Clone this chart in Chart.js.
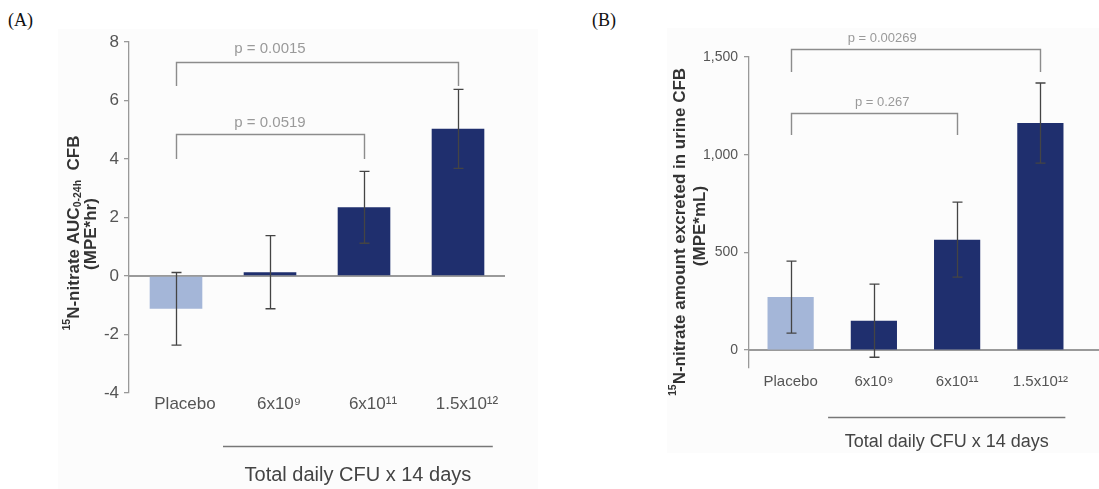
<!DOCTYPE html>
<html>
<head>
<meta charset="utf-8">
<script src="https://cdn.jsdelivr.net/npm/chart.js@4/dist/chart.umd.min.js"></script>
<style>
  html, body { margin: 0; padding: 0; background: #ffffff; }
  body { width: 1099px; height: 489px; position: relative; overflow: hidden; }
  .bg { position: absolute; background: #fcfcfc; }
  .panel-label { position: absolute; font-family: "Liberation Serif", "Times New Roman", serif; font-size: 18px; color: #111; }
  canvas { position: absolute; top: 0; }
</style>
</head>
<body>
<div class="bg" style="left:58px;top:29px;width:480px;height:460px;"></div>
<div class="bg" style="left:667px;top:28px;width:432px;height:425px;"></div>
<div class="panel-label" style="left:8px;top:10px;">(A)</div>
<div class="panel-label" style="left:592px;top:10px;">(B)</div>
<canvas id="chartA" width="540" height="489" style="left:0px;width:540px;height:489px;"></canvas>
<canvas id="chartB" width="549" height="489" style="left:550px;width:549px;height:489px;"></canvas>
<script>
// ---------------- data ----------------
const categories = ['Placebo', '6x10\u2079', '6x10\u00b9\u00b9', '1.5x10\u00b9\u00b2'];

const aucMeans  = [-1.12, 0.13, 2.35, 5.03];
const aucErrors = [1.24, 1.25, 1.23, 1.35];
const aucTicks  = [-4, -2, 0, 2, 4, 6, 8];
const aucTickLabels = ['-4', '-2', '0', '2', '4', '6', '8'];

const urineMeans  = [271, 150, 565, 1162];
const urineErrors = [184, 187, 192, 205];
const urineTicks  = [0, 500, 1000, 1500];
const urineTickLabels = ['0', '500', '1,000', '1,500'];

const barColors = ['#a4b6d8', '#1f2f6e', '#1f2f6e', '#1f2f6e'];

const aucComparisons = [
  { from: 0, to: 3, label: 'p = 0.0015', top: 7.32, foot: 6.5, textAt: 1.0, textY: 7.76 },
  { from: 0, to: 2, label: 'p = 0.0519', top: 4.85, foot: 4.0, textAt: 1.0, textY: 5.25 }
];
const urineComparisons = [
  { from: 0, to: 3, label: 'p = 0.00269', top: 1541, foot: 1423, textAt: 1.1, textY: 1597 },
  { from: 0, to: 2, label: 'p = 0.267', top: 1213, foot: 1101, textAt: 1.1, textY: 1270 }
];

const groupLabel = 'Total daily CFU x 14 days';

// ---------------- helpers ----------------
const SANS = '"Liberation Sans", Arial, sans-serif';

function drawRich(ctx, segments, size, weight) {
  let total = 0;
  const parts = segments.map(s => {
    const sz = s.sup || s.sub ? size * 0.62 : size;
    ctx.font = weight + ' ' + sz + 'px ' + SANS;
    const w = ctx.measureText(s.t).width;
    total += w;
    return { s, sz, w };
  });
  let x = -total / 2;
  parts.forEach(p => {
    ctx.font = weight + ' ' + p.sz + 'px ' + SANS;
    let dy = 0;
    if (p.s.sup) dy = -size * 0.38;
    if (p.s.sub) dy = size * 0.22;
    ctx.fillText(p.s.t, x, dy);
    x += p.w;
  });
}

const extrasPlugin = {
  id: 'extras',
  beforeDatasetsDraw(chart, args, o) {
    const ctx = chart.ctx, ys = chart.scales.y, ca = chart.chartArea;
    const y0 = ys.getPixelForValue(0);
    ctx.save();
    ctx.strokeStyle = '#9a9a9a';
    ctx.lineWidth = 2;
    ctx.beginPath();
    ctx.moveTo(ca.left, y0);
    ctx.lineTo(o.zeroLineRight === 'edge' ? chart.width : ca.right, y0);
    ctx.stroke();
    ctx.restore();
  },
  afterDatasetsDraw(chart, args, o) {
    const ctx = chart.ctx, ys = chart.scales.y;
    const meta = chart.getDatasetMeta(0);
    ctx.save();
    ctx.strokeStyle = '#444';
    ctx.lineWidth = 1.3;
    meta.data.forEach((bar, i) => {
      const x = Math.round(bar.x) + 0.5;
      const t = ys.getPixelForValue(o.means[i] + o.errors[i]);
      const b = ys.getPixelForValue(o.means[i] - o.errors[i]);
      ctx.beginPath();
      ctx.moveTo(x, t); ctx.lineTo(x, b);
      ctx.moveTo(x - o.cap, t); ctx.lineTo(x + o.cap, t);
      ctx.moveTo(x - o.cap, b); ctx.lineTo(x + o.cap, b);
      ctx.stroke();
    });
    ctx.restore();
  },
  afterDraw(chart, args, o) {
    const ctx = chart.ctx, ys = chart.scales.y, xs = chart.scales.x;
    const catX = v => {
      const step = xs.getPixelForValue(1) - xs.getPixelForValue(0);
      return xs.getPixelForValue(0) + v * step;
    };
    ctx.save();
    // significance brackets
    o.comparisons.forEach(c => {
      const x1 = Math.round(catX(c.from)) + 0.5, x2 = Math.round(catX(c.to)) + 0.5;
      const yt = Math.round(ys.getPixelForValue(c.top)) + 0.5;
      const yf = ys.getPixelForValue(c.foot);
      ctx.strokeStyle = '#8c8c8c';
      ctx.lineWidth = 1.4;
      ctx.beginPath();
      ctx.moveTo(x1, yf); ctx.lineTo(x1, yt); ctx.lineTo(x2, yt); ctx.lineTo(x2, yf);
      ctx.stroke();
      ctx.fillStyle = '#9a9a9a';
      ctx.font = o.pFont + 'px ' + SANS;
      ctx.textAlign = 'center';
      ctx.textBaseline = 'middle';
      ctx.fillText(c.label, catX(c.textAt), ys.getPixelForValue(c.textY));
    });
    // group underline and label
    const gx1 = catX(o.groupFrom), gx2 = catX(o.groupTo);
    ctx.strokeStyle = '#777';
    ctx.lineWidth = 1.4;
    ctx.beginPath();
    ctx.moveTo(gx1, o.groupLineY + 0.5); ctx.lineTo(gx2, o.groupLineY + 0.5);
    ctx.stroke();
    ctx.fillStyle = '#444';
    ctx.font = o.groupFont + 'px ' + SANS;
    ctx.textAlign = 'center';
    ctx.textBaseline = 'middle';
    ctx.fillText(groupLabel, (gx1 + gx2) / 2, o.groupTextY);
    // rotated y title (two lines)
    ctx.fillStyle = '#333';
    ctx.textAlign = 'left';
    ctx.textBaseline = 'middle';
    o.titleLines.forEach(line => {
      ctx.save();
      ctx.translate(line.x, line.y);
      ctx.rotate(-Math.PI / 2);
      drawRich(ctx, line.segments, o.titleFont, 'bold');
      ctx.restore();
    });
    ctx.restore();
  }
};

function makeChart(id, cfg) {
  return new Chart(document.getElementById(id), {
    type: 'bar',
    data: {
      labels: categories,
      datasets: [{
        data: cfg.means,
        backgroundColor: barColors,
        borderWidth: 0,
        barPercentage: cfg.barPct,
        categoryPercentage: 1.0
      }]
    },
    plugins: [extrasPlugin],
    options: {
      responsive: false,
      animation: false,
      events: [],
      layout: { padding: { left: 0, right: cfg.padRight, top: cfg.padTop, bottom: 0 } },
      plugins: {
        legend: { display: false },
        tooltip: { enabled: false },
        extras: cfg.extras
      },
      scales: {
        x: {
          grid: { display: false, drawTicks: false },
          border: { display: false },
          ticks: {
            color: '#555',
            font: { family: SANS, size: cfg.catFont },
            padding: cfg.catPad,
            labelOffset: cfg.catShift,
            maxRotation: 0,
            autoSkip: false
          },
          afterFit: s => { s.height = cfg.xHeight; }
        },
        y: {
          min: cfg.min,
          max: cfg.max,
          grid: { drawOnChartArea: false, drawTicks: true, tickLength: 5, color: '#999', lineWidth: 1.3 },
          border: { display: true, color: '#999', width: 1.3 },
          ticks: {
            color: '#555',
            font: { family: SANS, size: cfg.tickFont },
            padding: cfg.tickPad,
            callback: (v) => {
              const k = cfg.ticks.indexOf(v);
              return k >= 0 ? cfg.tickLabels[k] : '';
            }
          },
          afterBuildTicks: s => { s.ticks = cfg.ticks.map(v => ({ value: v })); },
          afterFit: s => { s.width = cfg.yWidth; }
        }
      }
    }
  });
}

makeChart('chartA', {
  means: aucMeans, barPct: 0.56, padRight: 35, padTop: 42, xHeight: 96, yWidth: 129,
  min: -4, max: 8, ticks: aucTicks, tickLabels: aucTickLabels,
  catFont: 17, catPad: 1, catShift: 9, tickFont: 17, tickPad: 5,
  extras: {
    means: aucMeans, errors: aucErrors, cap: 5,
    comparisons: aucComparisons, pFont: 15,
    zeroLineRight: 'area',
    groupFrom: 0.5, groupTo: 3.37, groupLineY: 446, groupTextY: 475, groupFont: 20,
    titleFont: 17,
    titleLines: [
      { x: 74, y: 233, segments: [{ t: '15', sup: true }, { t: 'N-nitrate AUC' }, { t: '0-24h', sub: true }, { t: '  CFB' }] },
      { x: 91, y: 234, segments: [{ t: '(MPE*hr)' }] }
    ]
  }
});

makeChart('chartB', {
  means: urineMeans, barPct: 0.555, padRight: 17, padTop: 57, xHeight: 121, yWidth: 199,
  min: -92, max: 1500, ticks: urineTicks, tickLabels: urineTickLabels,
  catFont: 15, catPad: 5, catShift: 0, tickFont: 14, tickPad: 6,
  extras: {
    means: urineMeans, errors: urineErrors, cap: 5,
    comparisons: urineComparisons, pFont: 13,
    zeroLineRight: 'edge',
    groupFrom: 0.45, groupTo: 3.3, groupLineY: 417, groupTextY: 442, groupFont: 18,
    titleFont: 17,
    titleLines: [
      { x: 680, y: 232, segments: [{ t: '15', sup: true }, { t: 'N-nitrate amount excreted in urine CFB' }] },
      { x: 700, y: 226, segments: [{ t: '(MPE*mL)' }] }
    ].map(l => ({ x: l.x - 550, y: l.y, segments: l.segments }))
  }
});
</script>
</body>
</html>
